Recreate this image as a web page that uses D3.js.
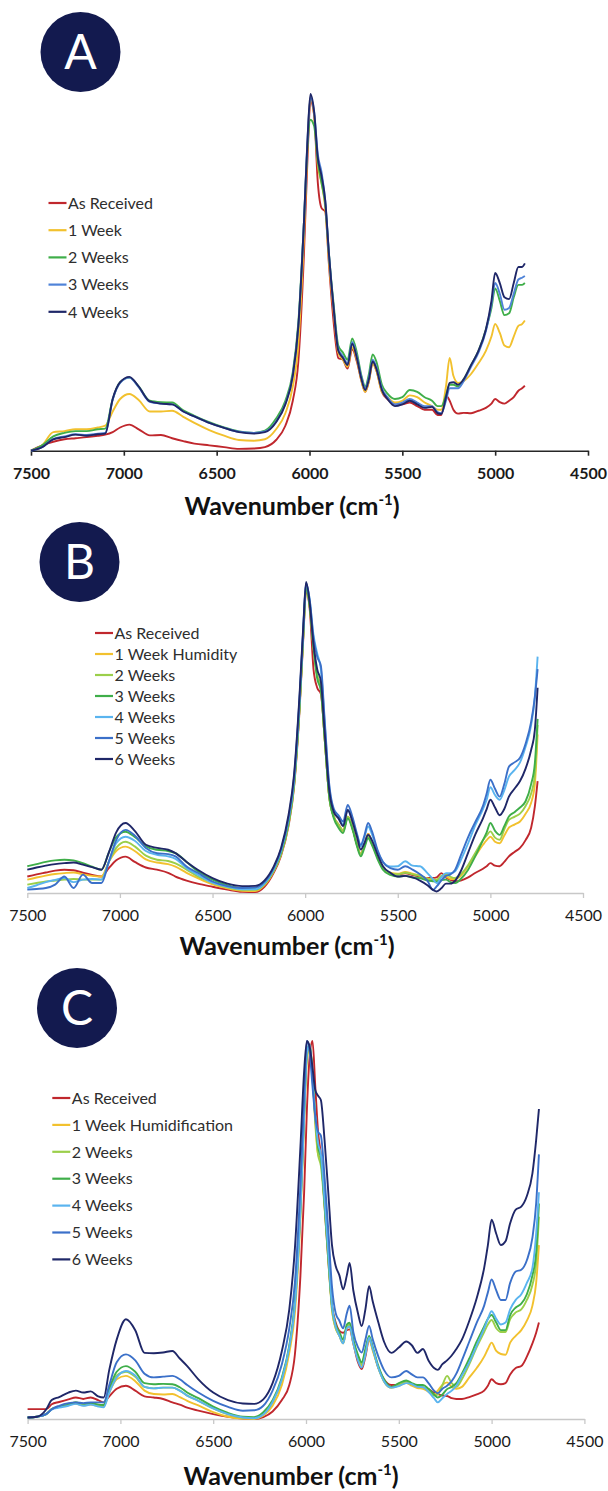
<!DOCTYPE html>
<html>
<head>
<meta charset="utf-8">
<script src="https://cdn.jsdelivr.net/npm/d3@7"></script>
<style>
  body { margin: 0; background: #fff; }
  svg { display: block; font-family: Lato, "Open Sans", sans-serif; }
</style>
</head>
<body>
<svg id="chart" width="608" height="1491"></svg>
<script>
// x axis ticks shared by the three panels
const tickValues = [7500, 7000, 6500, 6000, 5500, 5000, 4500];

// ---------- panel A ----------
const wnA = [
  7500, 7440, 7380, 7320, 7260, 7200, 7140, 7100, 7060, 7020,
  6970, 6920, 6860, 6800, 6740, 6680, 6620, 6540, 6460, 6380,
  6300, 6240, 6180, 6130, 6090, 6060, 6030, 6010, 5995, 5975,
  5955, 5935, 5915, 5895, 5870, 5845, 5820, 5795, 5770, 5745,
  5720, 5700, 5680, 5660, 5640, 5610, 5580, 5540, 5500, 5460,
  5420, 5380, 5340, 5310, 5290, 5265, 5245, 5225, 5200, 5170,
  5130, 5090, 5050, 5020, 5000, 4975, 4950, 4925, 4900, 4875,
  4855, 4840];
const receivedA = [
  0, 1.5, 2.5, 3.2, 3.5, 3.8, 4.2, 4.5, 5.2, 6.5,
  7.3, 6.0, 4.3, 4.4, 3.5, 2.7, 2.0, 1.5, 1.0, 0.5,
  0.6, 1.0, 3.0, 7, 14, 25, 55, 83, 98, 94,
  75, 68, 67, 52, 36, 26, 25.5, 23, 28.5, 25,
  19.5, 16.5, 19.5, 24.5, 22.5, 16.5, 14.5, 13, 13, 13.5,
  12.5, 11.5, 11.5, 10, 10, 15.5, 14, 11.5, 10.4, 10.6,
  10.5, 11.2, 12.0, 13.2, 14.5, 13.6, 13.2, 14, 15, 16.8,
  17.5, 18.2];
const week1A = [
  0, 1.5, 5.2, 5.5, 6.0, 6.0, 6.5, 7.0, 11.0, 14.5,
  15.9, 14.2, 11.0, 11.0, 11.2, 9.5, 7.8, 5.8, 4.2, 3.0,
  2.8, 3.2, 6.0, 10.5, 18, 30, 60, 86, 99, 94,
  80, 75, 68, 53, 39, 27.5, 25.5, 23.5, 29, 25.5,
  19.5, 16.5, 19.5, 24.5, 22.5, 16.5, 15, 13.5, 14, 15.5,
  15, 13.5, 12.5, 11.5, 11.5, 18, 26, 21, 19, 19.5,
  21.5, 24.5, 28, 32, 35.5, 33, 29.5, 29, 32, 35,
  35.5, 36.5];
const week2A = [
  0, 1.5, 4.0, 5.0, 5.5, 5.5, 6.0, 6.2, 14.5, 19.2,
  20.5, 18.0, 14.0, 13.6, 13.5, 11.3, 9.8, 8.0, 6.5, 5.4,
  5.0, 5.6, 9.0, 14.0, 22.0, 36, 64, 86, 92.8, 91,
  81, 75, 69, 55, 41, 29.5, 27.5, 25.5, 31.5, 27.5,
  21, 18, 21.5, 27, 25, 18.5, 16, 14.5, 15, 17,
  16.5, 15, 14, 12.5, 12.5, 15.5, 18.5, 18.5, 18, 20,
  24, 28, 34, 40, 45.5, 42, 38, 38.5, 43, 46.5,
  46.5, 47];
const week3A = [
  0, 1.0, 3.3, 4.0, 4.6, 4.4, 4.8, 5.0, 14.3, 19.0,
  20.5, 17.8, 13.7, 13.2, 13.0, 11.0, 9.6, 7.8, 6.4, 5.3,
  5.0, 5.4, 8.2, 13.2, 21.2, 35, 64, 88, 99, 95,
  83, 78, 70, 55, 40, 28.5, 26.5, 24.5, 30.5, 26.5,
  20.5, 17.5, 20.5, 25.5, 23.5, 17.5, 15, 13, 13.5, 14.5,
  13.5, 12.5, 12.5, 10.8, 10.5, 14, 17.5, 17.5, 17.5, 19.5,
  23.5, 27.5, 33.5, 41, 47, 44, 39.5, 40, 44, 48,
  48.5, 49];
const week4A = [
  0, 1.0, 3.2, 3.8, 4.5, 4.2, 4.6, 4.8, 14.5, 19.2,
  20.7, 18.0, 13.8, 13.2, 13.0, 11.0, 9.6, 7.8, 6.4, 5.2,
  4.8, 5.2, 8.0, 13.0, 21.0, 35, 64, 88, 100, 95,
  82, 77, 70, 55, 40, 28, 26, 24, 30, 26,
  20, 17, 20, 25, 23, 17, 14.5, 12.5, 13, 14,
  13, 12, 12.3, 10.5, 10.3, 15, 19, 19.2, 18.5, 20,
  24, 28, 34, 42, 49.8, 47, 43, 42.5, 47, 51.5,
  51.5, 52.5];
const labelsA = ["As Received", "1 Week", "2 Weeks", "3 Weeks", "4 Weeks"];
const colorsA = ["#c0272d", "#f2c12e", "#3fae49", "#4f83d8", "#1f2768"];

// ---------- panel B ----------
const wnB = [
  7500, 7450, 7400, 7350, 7300, 7250, 7200, 7150, 7100, 7060,
  7020, 6970, 6920, 6860, 6800, 6740, 6700, 6640, 6580, 6500,
  6420, 6340, 6270, 6220, 6170, 6130, 6090, 6060, 6030, 6010,
  5995, 5975, 5955, 5935, 5915, 5895, 5870, 5845, 5820, 5795,
  5770, 5745, 5720, 5700, 5680, 5660, 5640, 5610, 5580, 5540,
  5500, 5460, 5420, 5380, 5340, 5310, 5290, 5265, 5240, 5215,
  5190, 5160, 5120, 5080, 5040, 5020, 5000, 4975, 4950, 4925,
  4900, 4870, 4840, 4810, 4780, 4760, 4745];
const receivedB = [
  5.3, 6, 6.6, 7.2, 7.5, 7.3, 6.5, 5.8, 5.3, 8,
  10.5, 11.7, 10, 8.2, 7.5, 6.5, 5.3, 4, 3, 2,
  1.1, 0.4, 0.3, 2, 6.5, 12, 21.5, 34, 59, 82,
  97, 91, 72, 66, 64, 50, 31, 24.5, 22, 20,
  24.5, 21, 15.5, 12.5, 15.5, 19, 16.5, 12, 8.3, 6.3,
  6, 6.3, 5.8, 5.3, 4.8, 4.8, 5, 6.4, 5, 4.2,
  3.8, 4, 5, 6.5, 7.8, 8.6, 9.6, 8.8, 8.6, 10,
  11.8, 13.2, 14.5, 17, 21, 27.8, 36];
const week1B = [
  4.3, 5, 5.6, 6.1, 6.4, 6.6, 6, 5.5, 5.3, 10,
  13.5, 14.9, 13.5, 10.8, 9.8, 9.3, 8.5, 6.5, 4.8, 2.8,
  1.5, 0.7, 0.6, 2.5, 7, 12.5, 22, 34.5, 60, 83,
  98, 92, 79, 70, 66, 50, 31, 24.5, 22, 20,
  24.5, 21, 15.5, 12.5, 15.5, 19, 16.5, 12, 8.3, 6.5,
  6.2, 6.8, 6.2, 5.6, 4.7, 4.4, 4.3, 5.3, 5.3, 4.5,
  4.5, 5.5, 8.6, 12, 15.5, 17, 18.1, 16.5, 16, 18.5,
  21, 22, 23, 25.5, 29, 35, 51];
const week2B = [
  2.7, 3.2, 3.7, 4, 4.3, 4.5, 4.3, 4.3, 4.3, 10,
  14.5, 16.5, 15, 12, 10.7, 10.3, 9.5, 7.5, 5.3, 3.3,
  1.8, 1, 1, 2.8, 7, 12.5, 22, 34.5, 60, 83,
  98, 92, 79, 70, 66, 50, 31, 24.5, 22, 20,
  24.5, 21, 15.5, 12.5, 15, 18.2, 16, 11.5, 8, 6.3,
  6, 6.5, 6, 5.5, 4.5, 4.3, 4.2, 5.5, 6, 5.2,
  4.8, 6, 9, 13, 17, 18.5, 19.8, 17.8, 17.1, 20.5,
  23.5, 24.5, 25.5, 28, 32, 38, 54];
const week3B = [
  8.6, 9.3, 10, 10.5, 10.7, 10.5, 9.6, 8.5, 7.5, 13,
  18, 19.7, 18, 15, 13.9, 13.5, 12.8, 10, 7, 4.3,
  2.5, 1.4, 1.3, 3, 7.5, 13, 22.5, 35, 60, 83,
  98, 92, 79, 69, 65, 50, 31, 24, 21, 19.3,
  24, 20.5, 15, 11.8, 14.5, 17.6, 15.5, 11, 7.5, 5.8,
  5.3, 5.5, 5, 4.8, 4, 3.8, 3.7, 4.2, 4.3, 3.5,
  3.2, 4.5, 7.5, 12, 17, 19.5, 22.5, 20, 18.7, 21.5,
  24.6, 26, 27.5, 29.5, 35, 41.7, 56];
const week4B = [
  1.6, 2.5, 3.5, 4.2, 4.8, 3.5, 4.3, 4.5, 4.3, 10,
  16, 18.1, 16.8, 13.5, 12.3, 11.8, 11, 8, 5.9, 3.3,
  2, 1.2, 1.2, 3, 7.5, 13.5, 23.5, 36, 62, 85,
  99.5, 94, 83, 77, 72, 55, 34, 26.5, 24.5, 22,
  26.7, 23.5, 18.5, 15, 18, 21.4, 19, 13.5, 10, 8.5,
  8.6, 10.2, 8.8, 8.6, 6.4, 4.5, 3.2, 5, 6.4, 6.4,
  7, 10.5, 16, 22, 27, 30, 34, 31.5, 30, 33,
  37.4, 39.5, 42, 47, 54, 63, 76];
const week5B = [
  1.1, 1.3, 1.6, 2.7, 5.3, 1.6, 5.9, 3.2, 3.2, 10,
  17, 20.3, 18.5, 14.5, 12.8, 12.5, 11.8, 8.5, 6.5, 3.7,
  2.2, 1.6, 1.8, 3.5, 8, 14, 24, 37, 63, 85,
  99.5, 94, 82, 76, 73, 56, 35, 27, 25, 23,
  28.3, 24.5, 19, 15.5, 18.5, 22.5, 20, 14, 10, 8,
  7.5, 8.6, 7.5, 6, 4, 1, 2.1, 4, 5.5, 6,
  7.5, 12, 18, 23, 28, 32, 36.4, 33.5, 31, 35,
  40.6, 42, 43.5, 48, 55, 63, 72];
const week6B = [
  7.5, 8.2, 8.8, 9.3, 9.6, 9.8, 9.1, 8.3, 7.5, 13,
  19.5, 22.5, 20, 15.5, 14.5, 13.9, 12.8, 10, 7.5, 4.8,
  3, 2.2, 2.3, 4, 8.5, 14.5, 25, 38, 64, 86,
  100, 93, 80, 72, 68, 52, 33, 26, 24, 21.5,
  26.7, 23, 18, 14, 16, 18.7, 17, 12.5, 8.6, 6.5,
  5.3, 5.5, 5, 4, 2.5, 1, 0.5, 1.5, 3, 3,
  4, 7, 13, 19, 24, 27, 30, 27.5, 25, 27,
  31, 33.5, 36, 40, 46, 52.4, 66];
const labelsB = ["As Received", "1 Week Humidity", "2 Weeks", "3 Weeks", "4 Weeks", "5 Weeks", "6 Weeks"];

// ---------- panel C ----------
const wnC = [
  7500, 7450, 7400, 7370, 7330, 7280, 7240, 7200, 7160, 7120,
  7090, 7060, 7020, 6970, 6920, 6870, 6820, 6770, 6720, 6680,
  6640, 6580, 6500, 6420, 6340, 6280, 6230, 6180, 6130, 6090,
  6060, 6030, 6010, 5995, 5980, 5965, 5950, 5935, 5920, 5900,
  5880, 5860, 5840, 5820, 5800, 5780, 5765, 5745, 5720, 5700,
  5680, 5660, 5640, 5610, 5580, 5540, 5500, 5460, 5430, 5400,
  5370, 5340, 5310, 5290, 5265, 5240, 5215, 5190, 5160, 5120,
  5080, 5040, 5020, 5000, 4975, 4950, 4925, 4900, 4870, 4840,
  4810, 4780, 4760, 4745];
const receivedC = [
  2.6, 2.6, 2.6, 3.9, 4.5, 5.2, 5.7, 5.3, 5.7, 5.0,
  4.4, 6.0, 8.0, 8.8, 7.5, 6.0, 5.7, 5.3, 4.4, 3.8,
  3.0, 2.2, 1.3, 0.6, 0.1, 0, 0.5, 2, 5, 9,
  17, 38, 60, 82, 96, 100, 88, 76, 70, 56.5,
  42, 30, 25.5, 23.3, 22.8, 23.5, 23.7, 20, 15, 13.2,
  16.5, 21, 18.5, 13.5, 10.5, 9, 9.1, 9.6, 9.2, 8.7,
  8.3, 7.9, 7, 6.6, 6.2, 6.1, 5.5, 5.3, 5.3, 5.8,
  6.5, 7.5, 8.8, 10.5, 9.5, 9.2, 9.5, 11.8, 13.5, 14,
  16.5, 20, 22.8, 25.5];
const week1C = [
  0.4, 0.6, 1.3, 2.6, 3.2, 3.8, 4.0, 3.6, 3.8, 3.5,
  3.4, 7, 10.5, 11.4, 10, 7.5, 6.6, 6.5, 6.6, 5.8,
  4.8, 3.6, 1.8, 0.6, 0.1, 0, 0.9, 3.5, 9, 17.5,
  28, 53, 79, 95, 98, 92, 78, 70, 68.5, 60,
  44, 29, 24, 22, 20, 24, 24.5, 20, 16, 14,
  17.5, 21, 18, 13.5, 10, 8.3, 8.8, 9.6, 8.8, 8.2,
  8, 7.2, 6.5, 7.5, 9, 9.7, 8.5, 8, 8.5, 11,
  13.5, 16.5, 18.5, 20.2, 18, 17.2, 17, 20.2, 22, 23.5,
  26, 30, 36, 46];
const week2C = [
  0.4, 0.6, 1.3, 2.6, 3.2, 3.8, 4.4, 4.0, 4.2, 3.8,
  3.7, 7.5, 11.5, 12.5, 11.2, 8.5, 8.1, 8.3, 8.3, 7.5,
  6.2, 4.8, 2.8, 1.2, 0.3, 0.2, 1.4, 4.5, 10.5, 19,
  30, 55, 80, 96, 99, 91, 79, 70, 67, 56,
  42, 29, 24, 22, 20, 24.5, 25, 20.5, 16.5, 14.5,
  18, 21.5, 18.5, 13.5, 10, 8.3, 9, 10, 9.2, 8.7,
  8.5, 7.5, 6.2, 6.5, 9, 11.4, 9.5, 8.5, 10.5, 14.5,
  19, 23, 25, 26.2, 24, 23, 23, 26.4, 28.2, 29,
  31.5, 35.5, 41.3, 53.5];
const week3C = [
  0.4, 0.6, 1.3, 2.6, 3.2, 3.8, 4.4, 4.0, 4.2, 3.8,
  3.7, 8, 12.5, 14, 12.5, 9.5, 9.2, 9.3, 9.2, 8.4,
  7, 5.5, 3.3, 1.6, 0.6, 0.5, 1.8, 5, 11, 19.5,
  31, 56, 81, 97, 99, 91, 80, 72, 69, 57,
  43, 30, 25, 23, 21, 25, 25.5, 21, 17, 15,
  18.5, 22, 19, 14, 10.5, 8.5, 9.5, 10.2, 9.5, 9,
  9, 8, 6.5, 5.7, 6.5, 7.9, 8.5, 9.5, 12, 16,
  20.5, 24.5, 26.5, 27.5, 25.5, 23.5, 23.5, 27.5, 29.5, 30.5,
  33, 38, 44, 57];
const week4C = [
  0.4, 0.6, 1.3, 2.5, 3, 3.5, 4, 3.5, 3.8, 3.3,
  3.1, 7, 11, 12.7, 11.5, 8.5, 8.1, 8.3, 8.3, 7.5,
  6.2, 4.8, 2.8, 1.3, 0.4, 0.2, 1.2, 4.5, 10.5, 19,
  30, 55, 80, 97, 99, 90, 80, 73, 70, 58,
  44, 30, 24.5, 22, 20, 24, 24.5, 20, 15.5, 13.6,
  17, 21.5, 18.5, 13.5, 10, 8.3, 8.7, 9.5, 9.2, 8.5,
  8.4, 7.2, 5.5, 4.4, 5.5, 6.6, 7.5, 8.8, 11.5, 15,
  19.5, 24, 26.5, 28.5, 26.5, 25, 25.5, 29, 31.5, 33,
  36, 40, 49, 60];
const week5C = [
  0.4, 0.6, 1.3, 2.6, 3.5, 4.2, 4.4, 4.2, 4.4, 4.4,
  4.4, 9, 15, 17.1, 15.5, 12, 11, 11.2, 11.4, 10.5,
  9, 7, 4.8, 3.2, 2.2, 2.3, 3.5, 7.5, 14.5, 24,
  36, 62, 85, 100, 97, 88, 80, 76, 75, 64,
  50, 35, 28, 26, 24, 28, 30, 23, 19, 17.6,
  21, 24.6, 21, 16.5, 13, 11, 11.4, 12.7, 11.8, 11,
  11, 9.5, 7.5, 6.8, 8, 8.8, 10, 12, 15.5, 20.5,
  25.5, 30, 33.5, 36.9, 34, 31.5, 31.5, 36, 39, 39.5,
  42, 48, 57, 70];
const week6C = [
  0.4, 0.6, 2.5, 5.0, 5.8, 7.0, 7.5, 7.0, 7.3, 6.0,
  5.7, 13, 21, 26.4, 23.5, 17.5, 17.4, 17.6, 18, 16,
  14, 10.5, 7, 5, 4.1, 4, 5.2, 9.5, 18, 29,
  45, 72, 92, 100, 98.4, 93, 87, 85.5, 84.4, 73.8,
  60, 46, 40.5, 38, 34.3, 38, 41.3, 34, 28, 24.6,
  29, 35.1, 31, 25.5, 20.5, 17.5, 18.9, 20.5, 19.5, 17.5,
  18.5, 15.5, 13.5, 13, 14.5, 15.5, 16.8, 18.5, 21, 26,
  32, 40, 46, 52.7, 49, 46, 47, 51.8, 55.4, 56.2,
  59, 65, 73.8, 82];
const labelsC = ["As Received", "1 Week Humidification", "2 Weeks", "3 Weeks", "4 Weeks", "5 Weeks", "6 Weeks"];
const colorsBC = ["#c0272d", "#f2c12e", "#9bcf4a", "#3fae49", "#5ab4ef", "#3b70c9", "#1f2768"];

// layout of the three stacked panels
const panels = [
  { letter: "A", wn: wnA, series: [receivedA, week1A, week2A, week3A, week4A],
    labels: labelsA, colors: colorsA,
    x0: 31, x1: 588, base: 450.7, top: 94, circle: [80.5, 52],
    legend: { x: 48.5, y: 203, dy: 27.2 }, titleX: 292, titleY: 515,
    axisColor: "#262626", tickBold: true },
  { letter: "B", wn: wnB, series: [receivedB, week1B, week2B, week3B, week4B, week5B, week6B],
    labels: labelsB, colors: colorsBC,
    x0: 27.3, x1: 583, base: 893, top: 582, circle: [79.5, 562],
    legend: { x: 95, y: 633, dy: 21 }, titleX: 287, titleY: 955,
    axisColor: "#c8c8c8", tickBold: false },
  { letter: "C", wn: wnC, series: [receivedC, week1C, week2C, week3C, week4C, week5C, week6C],
    labels: labelsC, colors: colorsBC,
    x0: 27.6, x1: 584.4, base: 1419, top: 1041, circle: [77, 1008],
    legend: { x: 52.3, y: 1098, dy: 26.9 }, titleX: 291, titleY: 1485,
    axisColor: "#c8c8c8", tickBold: false }
];

const svg = d3.select("#chart");

panels.forEach(p => {
  const g = svg.append("g");

  const x = d3.scaleLinear().domain([7500, 4500]).range([p.x0, p.x1]);
  const y = d3.scaleLinear().domain([0, 100]).range([p.base, p.top]);

  const line = d3.line()
    .x(d => x(d[0]))
    .y(d => y(d[1]))
    .curve(d3.curveMonotoneX);

  // axis
  const axis = g.append("g")
    .attr("transform", `translate(0,${p.base})`)
    .call(d3.axisBottom(x).tickValues(tickValues).tickSize(5).tickSizeOuter(0)
      .tickPadding(12).tickFormat(d3.format("d")));
  axis.select(".domain").attr("stroke", p.axisColor).attr("stroke-width", p.tickBold ? 1.6 : 1.3);
  axis.selectAll(".tick line").attr("stroke", p.axisColor).attr("stroke-width", p.tickBold ? 1.6 : 1.3);
  axis.selectAll(".tick text")
    .attr("fill", "#1a1a1a")
    .style("font-family", "Lato, sans-serif")
    .style("font-size", "16px")
    .style("font-weight", p.tickBold ? "bold" : "normal");

  // spectra, drawn in legend order so the latest week sits on top
  p.series.forEach((vals, i) => {
    g.append("path")
      .datum(p.wn.map((w, k) => [w, vals[k]]))
      .attr("fill", "none")
      .attr("stroke", p.colors[i])
      .attr("stroke-width", 1.9)
      .attr("stroke-linejoin", "round")
      .attr("d", line);
  });

  // legend
  p.labels.forEach((lab, i) => {
    const ly = p.legend.y + i * p.legend.dy;
    g.append("line")
      .attr("x1", p.legend.x).attr("x2", p.legend.x + 18)
      .attr("y1", ly).attr("y2", ly)
      .attr("stroke", p.colors[i]).attr("stroke-width", 2.2);
    g.append("text")
      .attr("x", p.legend.x + 19.5).attr("y", ly).attr("dy", "0.36em")
      .attr("fill", "#2e2e2e")
      .style("font-size", "16px")
      .text(lab);
  });

  // panel badge
  g.append("circle")
    .attr("cx", p.circle[0]).attr("cy", p.circle[1]).attr("r", 40)
    .attr("fill", "#131a4f");
  g.append("text")
    .attr("x", p.circle[0]).attr("y", p.circle[1]).attr("dy", "0.36em")
    .attr("text-anchor", "middle")
    .attr("fill", "#fff")
    .style("font-size", "48px")
    .text(p.letter);

  // axis title with superscript
  const t = g.append("text")
    .attr("x", p.titleX).attr("y", p.titleY)
    .attr("text-anchor", "middle")
    .attr("fill", "#111")
    .style("font-size", "25px")
    .style("font-weight", "bold");
  t.append("tspan").text("Wavenumber (cm");
  t.append("tspan").attr("dy", -10).style("font-size", "15px").text("-1");
  t.append("tspan").attr("dy", 10).text(")");
});
</script>
</body>
</html>
